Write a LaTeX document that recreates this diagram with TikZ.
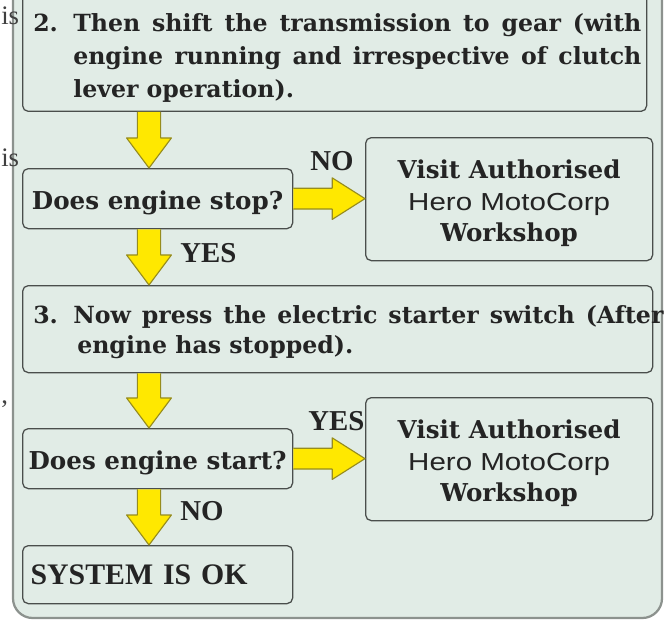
\documentclass[tikz,border=0pt]{standalone}
\usepackage{fontspec}
\setmainfont{DejaVu Serif}
\newfontfamily\timesfont{Liberation Serif}
\newfontfamily\hmcfont{Liberation Sans}[FakeStretch=1.2]
\usetikzlibrary{calc}
\definecolor{panel}{RGB}{225,236,230}
\definecolor{rim}{RGB}{140,146,142}
\definecolor{edge}{RGB}{74,78,76}
\definecolor{ink}{RGB}{36,36,36}
\definecolor{yfill}{RGB}{255,232,0}
\definecolor{yedge}{RGB}{150,140,30}
\newcommand{\px}{0.025cm}
% half shaft, half head and head length of the fat arrows
\newcommand{\shaftw}{0.29cm}
\newcommand{\headw}{0.56cm}
\newcommand{\headl}{0.75cm}
\newcommand{\downfat}[2]{%
  \draw[fatarrow] let \p1=(#1), \p2=(#2) in
    (\x1-\shaftw,\y1) -- (\x1-\shaftw,\y2+\headl) -- (\x1-\headw,\y2+\headl)
    -- (\x1,\y2) -- (\x1+\headw,\y2+\headl) -- (\x1+\shaftw,\y2+\headl) -- (\x1+\shaftw,\y1);}
\newcommand{\rightfat}[2]{%
  \draw[fatarrow] let \p1=(#1), \p2=(#2) in
    (\x1,\y1+0.26cm) -- (\x2-0.82cm,\y1+0.26cm) -- (\x2-0.82cm,\y1+0.52cm)
    -- (\x2,\y1) -- (\x2-0.82cm,\y1-0.52cm) -- (\x2-0.82cm,\y1-0.26cm) -- (\x1,\y1-0.26cm);}
\begin{document}
\begin{tikzpicture}[x=0.025cm, y=-0.025cm, line join=round, text=ink,
  box/.style={draw=edge, line width=0.9pt, rounded corners=4pt, fill=panel, inner sep=0pt, anchor=north west},
  big/.style={font=\bfseries\fontsize{17.5}{22.5}\selectfont},
  steptxt/.style={anchor=base west, align=left, inner sep=0pt},
  yn/.style={font=\timesfont\bfseries\fontsize{20.5}{22}\selectfont, anchor=base west, inner sep=0pt},
  pagetxt/.style={font=\timesfont\fontsize{19}{20}\selectfont, text=black!75, anchor=base west, inner sep=0pt},
  fatarrow/.style={draw=yedge, fill=yfill, line width=0.8pt}]
\useasboundingbox (0,0) rectangle (668,623);
\clip (0,0) rectangle (668,623);
\path (149,0) coordinate (col);
\draw[rim, line width=1.6pt, fill=panel, rounded corners=14pt] (13,-40) rectangle (662,618);
\node[pagetxt] (is1) at (1,25) {is};
\node[pagetxt] (is2) at (1,166) {is};
\node[pagetxt] (comma) at (1,403) {,};

\node[box, anchor=south west, minimum width=624*\px, minimum height=160*\px] (step2) at (22,112) {};
\node[steptxt, font=\bfseries\fontsize{16.8}{23.5}\selectfont] (step2txt) at (33,98)
  {\makebox[1cm][l]{2.}\makebox[14.2cm][s]{Then shift the transmission to gear (with}\\
  \hspace*{1cm}\makebox[14.2cm][s]{engine running and irrespective of clutch}\\
  \hspace*{1cm}lever operation).};

\node[box, minimum width=270*\px, minimum height=60*\px] (stop) at (22,168) {};
\node[big, yshift=-3pt] (stoptxt) at (stop) {Does engine stop?};
\node[box, minimum width=287*\px, minimum height=123*\px] (visit1) at (365,137) {};
\node[big, align=center, yshift=-3pt] (visit1txt) at (visit1)
  {Visit Authorised\\{\hmcfont\mdseries Hero MotoCorp}\\Workshop};

\node[box, minimum width=630*\px, minimum height=87*\px] (step3) at (22,285) {};
\node[steptxt, font=\bfseries\fontsize{16.8}{21.3}\selectfont] (step3txt) at (33,353)
  {\makebox[1cm][l]{3.}\makebox[14.75cm][s]{Now press the electric starter switch (After}\\
  \hspace*{1.1cm}engine has stopped).};

\node[box, minimum width=270*\px, minimum height=60*\px] (start) at (22,428) {};
\node[big, yshift=-3pt] (starttxt) at (start) {Does engine start?};
\node[box, minimum width=287*\px, minimum height=123*\px] (visit2) at (365,397) {};
\node[big, align=center, yshift=-3pt] (visit2txt) at (visit2)
  {Visit Authorised\\{\hmcfont\mdseries Hero MotoCorp}\\Workshop};

\node[box, minimum width=270*\px, minimum height=58*\px, inner xsep=8*\px, text width=254*\px, align=left,
  font=\timesfont\bfseries\fontsize{21.2}{24}\selectfont] (ok) at (22,545) {SYSTEM IS OK};

\downfat{step2.south -| col}{stop.north -| col}
\downfat{stop.south -| col}{step3.north -| col}
\downfat{step3.south -| col}{start.north -| col}
\downfat{start.south -| col}{ok.north -| col}
\rightfat{stop.east}{stop.east -| visit1.west}
\rightfat{start.east}{start.east -| visit2.west}

\node[yn] (no1) at (310,170) {NO};
\node[yn] (yes1) at (180,262) {YES};
\node[yn] (yes2) at (308,430) {YES};
\node[yn] (no2) at (180,520) {NO};
\end{tikzpicture}
\end{document}
